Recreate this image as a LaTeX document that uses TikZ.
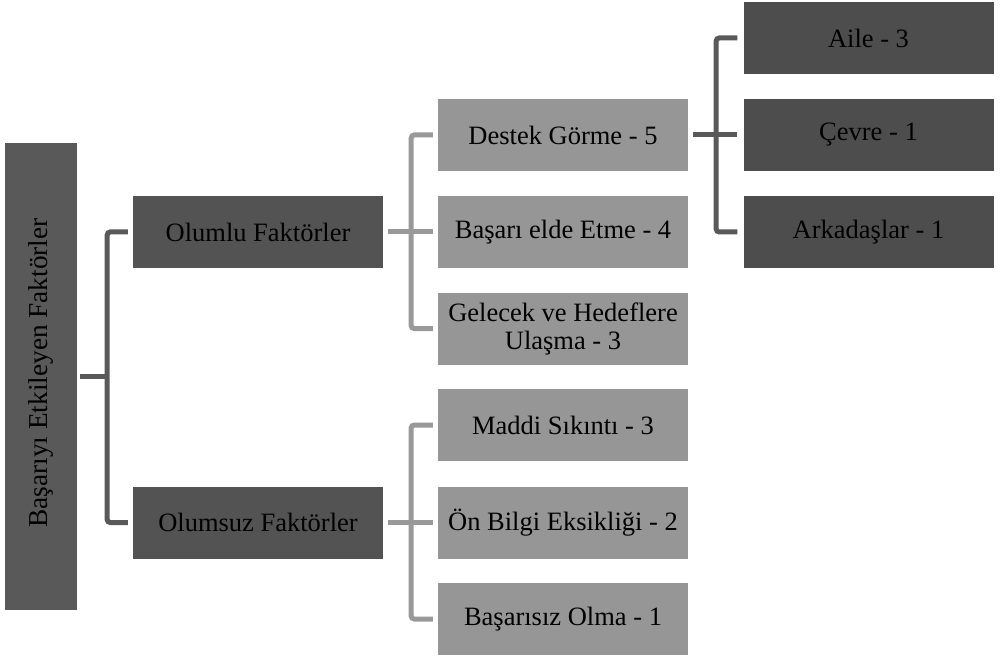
\documentclass[tikz,border=0pt]{standalone}
\usepackage{fontspec}
\setmainfont{Liberation Serif}
\definecolor{rootc}{HTML}{595959}
\definecolor{darkc}{HTML}{535353}
\definecolor{darkerc}{HTML}{4D4D4D}
\definecolor{lightc}{HTML}{969696}
\definecolor{dlinec}{HTML}{595959}
\definecolor{llinec}{HTML}{999999}
\tikzset{
  basebox/.style={rectangle, inner sep=0pt, minimum width=250pt, minimum height=72pt,
    align=center, text=black, font=\fontsize{26.5}{28}\selectfont},
  lvlone/.style={basebox, fill=darkc},
  lvltwo/.style={basebox, fill=lightc},
  lvlthree/.style={basebox, fill=darkerc},
  dconn/.style={draw=dlinec, line width=5pt, rounded corners=3pt},
  lconn/.style={draw=llinec, line width=5pt, rounded corners=3pt},
}
\begin{document}
\begin{tikzpicture}[x=1pt,y=-1pt]
\useasboundingbox (0,0) rectangle (1000,660);
\node[rectangle, fill=rootc, inner sep=0pt, minimum width=72pt, minimum height=467pt, font=\fontsize{27.3}{29}\selectfont] (root) at (41,376.5) {\rotatebox{90}{\hspace*{7pt}Başarıyı Etkileyen Faktörler}};
\node[lvlone] (pos) at (258,232) {Olumlu Faktörler};
\node[lvlone] (neg) at (258,522.5) {Olumsuz Faktörler};
\node[lvltwo] (a1) at (563,135) {Destek Görme - 5};
\node[lvltwo] (a2) at (563,232) {Başarı elde Etme - 4};
\node[lvltwo] (a3) at (563,328.5) {Gelecek ve Hedeflere\\Ulaşma - 3};
\node[lvltwo] (b1) at (563,425) {Maddi Sıkıntı - 3};
\node[lvltwo] (b2) at (563,522.5) {Ön Bilgi Eksikliği - 2};
\node[lvltwo] (b3) at (563,619) {Başarısız Olma - 1};
\node[lvlthree] (c1) at (868.5,38) {Aile - 3};
\node[lvlthree] (c2) at (868.5,135) {Çevre - 1};
\node[lvlthree] (c3) at (868.5,232) {Arkadaşlar - 1};
% root connectors
\draw[dconn] ([xshift=3pt]root.east) -- ([xshift=30pt]root.east) coordinate (j1);
\draw[dconn] ([xshift=-5pt]pos.west) -| (j1) |- ([xshift=-5pt]neg.west);
% positive
\coordinate (j2) at ([xshift=28pt]pos.east);
\draw[lconn] ([xshift=5pt]pos.east) -- ([xshift=-5pt]a2.west);
\draw[lconn] ([xshift=-5pt]a1.west) -| (j2) |- ([xshift=-5pt]a3.west);
% negative
\coordinate (j3) at ([xshift=28pt]neg.east);
\draw[lconn] ([xshift=5pt]neg.east) -- ([xshift=-5pt]b2.west);
\draw[lconn] ([xshift=-5pt]b1.west) -| (j3) |- ([xshift=-5pt]b3.west);
% support
\coordinate (j4) at ([xshift=28pt]a1.east);
\draw[dconn] ([xshift=5pt]a1.east) -- ([xshift=-6pt]c2.west);
\draw[dconn] ([xshift=-6pt]c1.west) -| (j4) |- ([xshift=-6pt]c3.west);
\end{tikzpicture}
\end{document}
